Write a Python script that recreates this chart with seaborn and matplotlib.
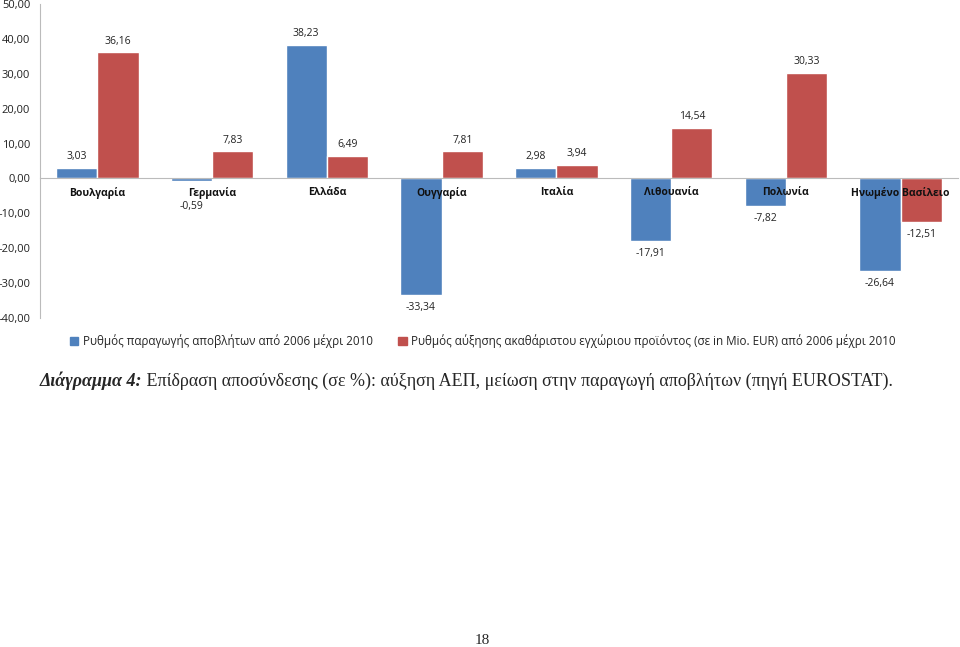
import matplotlib
matplotlib.use("Agg")
import matplotlib.pyplot as plt
import seaborn as sns
import pandas as pd
from matplotlib.patches import Patch
from matplotlib.ticker import FuncFormatter

countries = ['Βουλγαρία', 'Γερμανία', 'Ελλάδα', 'Ουγγαρία', 'Ιταλία',
             'Λιθουανία', 'Πολωνία', 'Ηνωμένο Βασίλειο']
waste = [3.03, -0.59, 38.23, -33.34, 2.98, -17.91, -7.82, -26.64]
gdp = [36.16, 7.83, 6.49, 7.81, 3.94, 14.54, 30.33, -12.51]
series_names = ['Ρυθμός παραγωγής αποβλήτων από 2006 μέχρι 2010',
                'Ρυθμός αύξησης ακαθάριστου εγχώριου προϊόντος (σε in Mio. EUR) από 2006 μέχρι 2010']
colors = ['#4F81BD', '#C0504D']

df = pd.DataFrame({
    'country': countries * 2,
    'value': waste + gdp,
    'series': [series_names[0]] * len(countries) + [series_names[1]] * len(countries),
})

sns.set_style('white')
plt.rcParams['font.family'] = ['Open Sans', 'DejaVu Sans']

fig = plt.figure(figsize=(9.6, 6.47), dpi=100)
ax = fig.add_axes([40 / 960, 1 - 318 / 647, 918 / 960, 314 / 647])

sns.barplot(data=df, x='country', y='value', hue='series', palette=colors,
            width=0.72, saturation=1, ax=ax, legend=False)

# data labels: above positive bars, below negative ones
for cont in ax.containers:
    for b in cont:
        v = b.get_height()
        x = b.get_x() + b.get_width() / 2
        if v >= 0:
            off = 8
        elif v > -3:
            off = -19  # small bar: label sits under the category name
        else:
            off = -9
        ax.annotate(f'{v:.2f}'.replace('.', ','), xy=(x, v), xytext=(0, off),
                    textcoords='offset points', ha='center', va='center',
                    fontsize=7.5, color='#222222')

ax.set_ylim(-40, 50)
ax.set_yticks(range(-40, 51, 10))
ax.yaxis.set_major_formatter(FuncFormatter(lambda v, p: f'{v:.2f}'.replace('.', ',')))
ax.tick_params(axis='y', labelsize=8, colors='#222222', length=3, color='#BBBBBB', pad=4)
ax.set_xlabel('')
ax.set_ylabel('')

ax.set_axisbelow(False)
ax.spines['bottom'].set_position(('data', 0))
ax.spines['bottom'].set_color('#BBBBBB')
ax.spines['left'].set_color('#BBBBBB')
ax.spines['top'].set_visible(False)
ax.spines['right'].set_visible(False)
ax.tick_params(axis='x', length=0, pad=6, labelsize=7.5, labelcolor='#111111')
for lbl in ax.get_xticklabels():
    lbl.set_fontweight('bold')

handles = [Patch(color=c) for c in colors]
fig.legend(handles, series_names, loc='center', bbox_to_anchor=(0.503, 1 - 341 / 647),
           ncol=2, frameon=False, fontsize=8.4, handlelength=0.7, handleheight=0.7,
           handletextpad=0.4, columnspacing=2.2)

t1 = fig.text(40 / 960, 1 - 381 / 647, 'Διάγραμμα 4:', fontsize=13,
              family='Liberation Serif', weight='bold', style='italic', va='center')
fig.canvas.draw()
ax.annotate(' Επίδραση αποσύνδεσης (σε %): αύξηση ΑΕΠ, μείωση στην παραγωγή αποβλήτων (πηγή EUROSTAT).',
            xy=(1, 0), xycoords=t1, va='bottom', ha='left', fontsize=13,
            family='Liberation Serif', annotation_clip=False)

fig.text(482 / 960, 1 - 641 / 647, '18', fontsize=11, family='Liberation Serif',
         ha='center', va='center')

fig.savefig('out.png', dpi=100)
